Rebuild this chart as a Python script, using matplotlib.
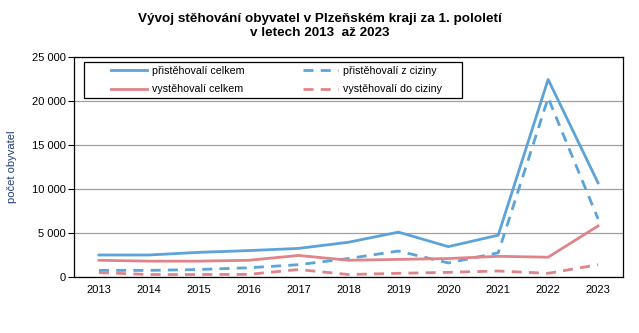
import matplotlib
matplotlib.use("Agg")
from matplotlib import pyplot as plt
from matplotlib.patches import Rectangle

years = ["2013", "2014", "2015", "2016", "2017", "2018", "2019", "2020", "2021", "2022", "2023"]
prist_celkem = [2500, 2500, 2800, 3000, 3250, 3950, 5100, 3450, 4750, 22450, 10700]
prist_cizina = [750, 750, 850, 1050, 1400, 2100, 2950, 1600, 2750, 20350, 6600]
vyst_celkem = [1900, 1800, 1800, 1900, 2450, 1900, 2000, 2100, 2350, 2250, 5800]
vyst_cizina = [500, 280, 280, 300, 850, 280, 420, 530, 680, 420, 1400]

blue = "#5ca3d8"
red = "#df8488"

plt.rcParams["font.family"] = ["Liberation Sans", "DejaVu Sans"]

fig = plt.figure(figsize=(6.39, 3.33), dpi=100)
ax = fig.add_axes([74 / 639, 1 - 277 / 333, 549 / 639, 220 / 333])

x = list(range(len(years)))
lw = 2.0
dash = (0, (3.6, 2.6))
ax.plot(x, prist_celkem, color=blue, lw=lw, label="přistěhovalí celkem")
ax.plot(x, prist_cizina, color=blue, lw=lw, ls=dash, label="přistěhovalí z ciziny")
ax.plot(x, vyst_celkem, color=red, lw=lw, label="vystěhovalí celkem")
ax.plot(x, vyst_cizina, color=red, lw=lw, ls=dash, label="vystěhovalí do ciziny")

ax.set_xlim(-0.5, len(years) - 0.5)
ax.set_ylim(0, 25000)
ax.set_xticks(x)
ax.set_xticklabels(years, fontsize=8)
ax.set_yticks(range(0, 25001, 5000))
ax.set_yticklabels([f"{v:,}".replace(",", " ") for v in range(0, 25001, 5000)], fontsize=8)
ax.tick_params(axis="x", length=0, pad=6)
ax.tick_params(axis="y", length=4, direction="out", pad=2)
ax.yaxis.grid(True, color="#a0a0a0", lw=0.9)
ax.set_axisbelow(True)
for s in ax.spines.values():
    s.set_color("black")
    s.set_linewidth(0.9)

ax.set_ylabel("počet obyvatel", fontsize=8, color="#1f3a7a")
ax.yaxis.set_label_coords(-0.104, 0.5)

# legend: frame drawn separately so it can be wider than its content
h, l = ax.get_legend_handles_labels()
order = [0, 2, 1, 3]
leg = ax.legend([h[i] for i in order], [l[i] for i in order], ncol=2, fontsize=7.7,
                loc="upper left", bbox_to_anchor=(0.068, 0.96), frameon=False,
                handlelength=3.3, handletextpad=0.5, columnspacing=5.45,
                borderpad=0, borderaxespad=0, labelspacing=0.8)
ax.add_patch(Rectangle((0.019, 0.8136), 0.6885, 0.1636, transform=ax.transAxes,
                       fill=False, edgecolor="black", lw=0.9, zorder=5))

fig.text(0.5, 1 - 19 / 333, "Vývoj stěhování obyvatel v Plzeňském kraji za 1. pololetí",
         ha="center", va="center", fontsize=9.7, fontweight="bold")
fig.text(0.5, 1 - 33 / 333, "v letech 2013  až 2023",
         ha="center", va="center", fontsize=9.7, fontweight="bold")

fig.savefig("out.png", dpi=100)
